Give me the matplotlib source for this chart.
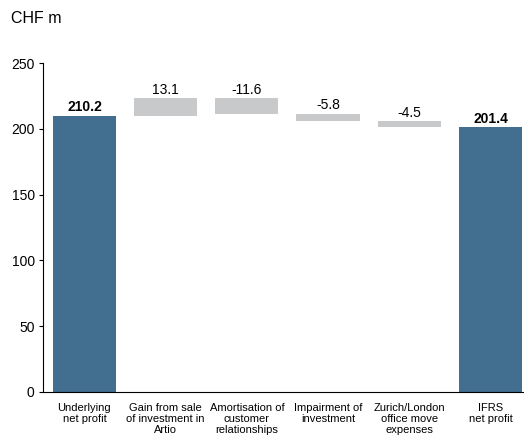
import numpy as np
import matplotlib.pyplot as plt

plt.rcParams['font.family'] = ['Liberation Sans', 'DejaVu Sans']

# Datos del puente de beneficio
categorias = ['Underlying\nnet profit', 'Gain from sale\nof investment in\nArtio',
              'Amortisation of\ncustomer\nrelationships', 'Impairment of\ninvestment',
              'Zurich/London\noffice move\nexpenses', 'IFRS\nnet profit']
valores = [210.2, 13.1, -11.6, -5.8, -4.5, 201.4]
es_total = [True, False, False, False, False, True]

azul = '#426E8F'
gris = '#C8C9CA'

fig = plt.figure(figsize=(5.24, 4.36), dpi=100)
ax = fig.add_axes([0.082, 0.101, 0.916, 0.754])

x = np.arange(len(categorias))
nivel = 0.0
for i, (v, tot) in enumerate(zip(valores, es_total)):
    if tot:
        base, alto = 0, v
        nivel = v
        color = azul
    else:
        base = nivel if v > 0 else nivel + v
        alto = abs(v)
        nivel += v
        color = gris
    ax.bar(x[i], alto, bottom=base, width=0.78, color=color, zorder=2)
    ax.text(x[i], base + alto + 1.0, f'{v:.1f}', ha='center', va='bottom',
            fontsize=10, fontweight='bold' if tot else 'normal', color='black')

ax.set_xlim(-0.51, 5.4)
ax.set_ylim(0, 250)
ax.set_yticks([0, 50, 100, 150, 200, 250])
ax.tick_params(axis='y', labelsize=10, length=3, width=0.8, pad=3)
ax.set_xticks(x)
ax.set_xticklabels(categorias, fontsize=8, linespacing=1.1)
ax.tick_params(axis='x', length=0, pad=8)

ax.spines['top'].set_visible(False)
ax.spines['right'].set_visible(False)
ax.spines['left'].set_linewidth(0.8)
ax.spines['bottom'].set_linewidth(0.8)

fig.text(0.021, 0.94, 'CHF m', fontsize=11.5, ha='left', va='bottom')

fig.savefig('out.png', dpi=100)
